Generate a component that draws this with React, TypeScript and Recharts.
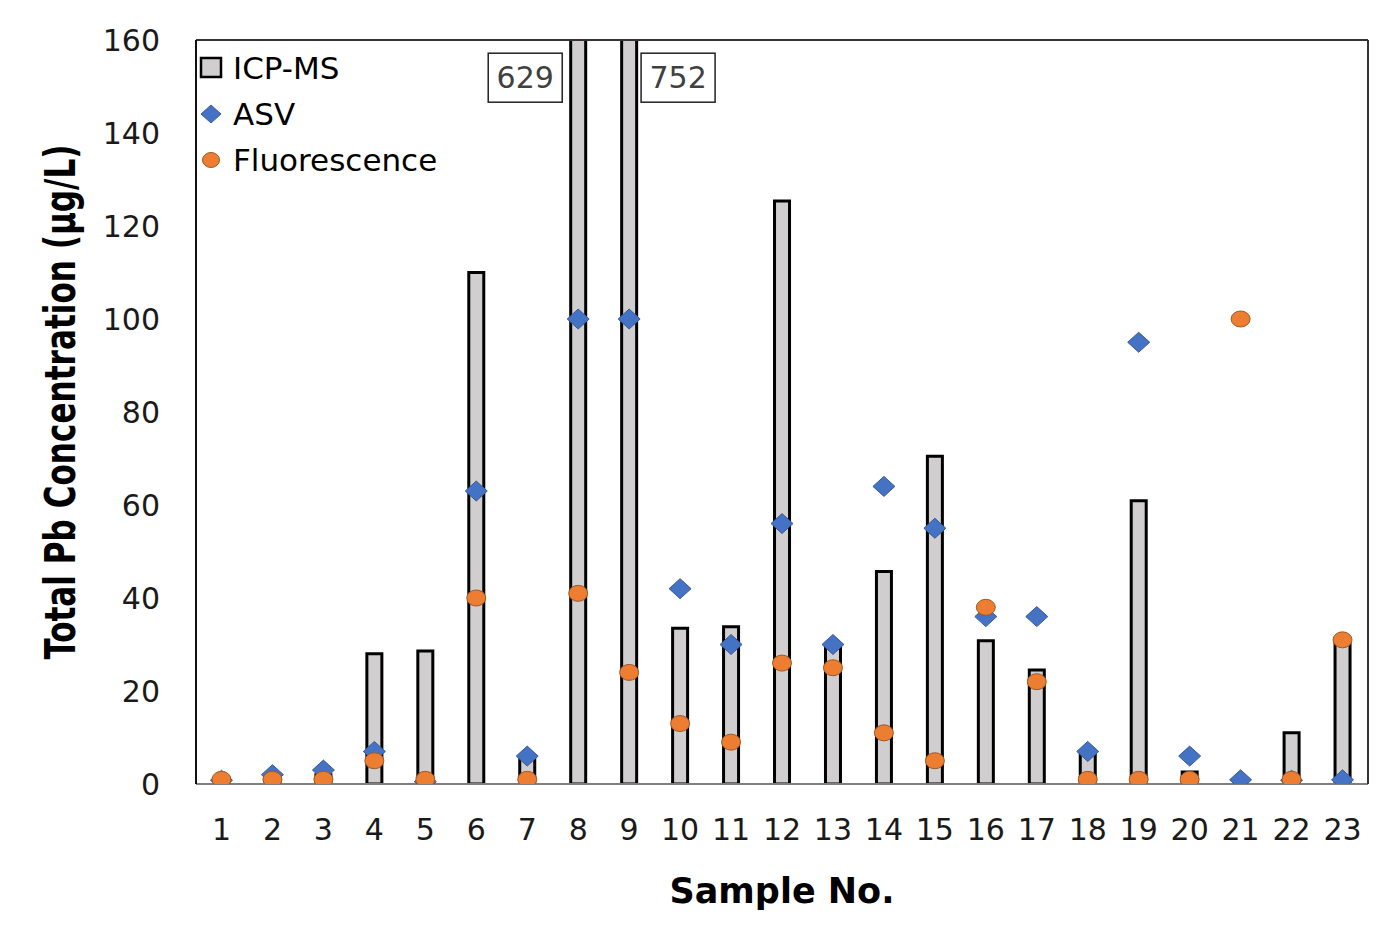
import React from "react";
import {
  ComposedChart,
  Bar,
  Scatter,
  XAxis,
  YAxis,
  Legend,
  ReferenceDot,
} from "recharts";

// Sample numbers 1..23
const samples = [
  "1", "2", "3", "4", "5", "6", "7", "8", "9", "10", "11", "12",
  "13", "14", "15", "16", "17", "18", "19", "20", "21", "22", "23",
];

// Total Pb (µg/L) by method
const icpMs = [
  0.3, 1.5, 2, 28, 28.6, 110, 5.6, 629, 752, 33.5, 33.8, 125.4,
  29.5, 45.7, 70.5, 30.8, 24.5, 6.7, 60.9, 2.6, 0, 11, 30.3,
];
const asv = [
  0.8, 2, 3, 7, 0.5, 63, 6, 100, 100, 42, 30, 56,
  30, 64, 55, 36, 36, 7, 95, 6, 0.9, 0.8, 0.9,
];
const fluorescence = [
  1, 1, 1, 5, 1, 40, 1, 41, 24, 13, 9, 26,
  25, 11, 5, 38, 22, 1, 1, 1, 100, 1, 31,
];

const yTicks = [0, 20, 40, 60, 80, 100, 120, 140, 160];

// off-scale values written in boxes above the clipped bars
const offScaleNotes = [
  { sample: "7", y: 152, text: "629" },
  { sample: "10", y: 152, text: "752" },
];

const FONT = "'DejaVu Sans', 'Open Sans', sans-serif";
const BAR_FILL = "#d0cece";
const BLUE = "#4472c4";
const ORANGE = "#ed7d31";

const chartData = samples.map((s, i) => ({
  sample: s,
  icp: icpMs[i],
  asv: asv[i],
  fluor: fluorescence[i],
}));

const Diamond = (props: any) => {
  const { cx, cy } = props;
  if (cx == null || cy == null) return null;
  return (
    <path
      d={`M${cx},${cy - 10} L${cx + 11},${cy} L${cx},${cy + 10} L${cx - 11},${cy} Z`}
      fill={BLUE}
      stroke="#3a5a94"
      strokeWidth={1}
    />
  );
};

const Dot = (props: any) => {
  const { cx, cy } = props;
  if (cx == null || cy == null) return null;
  return (
    <ellipse cx={cx} cy={cy} rx={9.5} ry={8} fill={ORANGE} stroke="#9c5a2a" strokeWidth={1} />
  );
};

const NoteBox = (text: string) => (props: any) => {
  const { cx, cy } = props;
  if (cx == null || cy == null) return null;
  return (
    <g>
      <rect x={cx - 39} y={cy - 24} width={74} height={49} fill="#fff" stroke="#222" strokeWidth={1.5} />
      <text
        x={cx - 2}
        y={cy + 11}
        textAnchor="middle"
        fontFamily={FONT}
        fontSize={30}
        fill="#404040"
      >
        {text}
      </text>
    </g>
  );
};

const YTitle = (props: any) => {
  const { viewBox } = props;
  const cy = viewBox.y + viewBox.height / 2 - 10;
  const cx = 60;
  return (
    <text
      x={cx}
      y={cy}
      transform={`rotate(-90 ${cx} ${cy})`}
      textAnchor="middle"
      dominantBaseline="central"
      fontFamily="'Liberation Sans Narrow', 'DejaVu Sans Condensed', 'DejaVu Sans', sans-serif"
      fontWeight="bold"
      fontSize={43}
      textLength={515}
      lengthAdjust="spacingAndGlyphs"
      fill="#000"
    >
      Total Pb Concentration (µg/L)
    </text>
  );
};

const legendItems = [
  { name: "ICP-MS", kind: "square" },
  { name: "ASV", kind: "diamond" },
  { name: "Fluorescence", kind: "circle" },
];

const LegendBox = () => (
  <div style={{ fontFamily: FONT, fontSize: 31, color: "#000", lineHeight: "46px" }}>
    {legendItems.map((it) => (
      <div key={it.name} style={{ display: "flex", alignItems: "center", height: 46 }}>
        <svg width={26} height={24} style={{ marginRight: 8 }}>
          {it.kind === "square" && (
            <rect x={2} y={2} width={20} height={19} fill={BAR_FILL} stroke="#000" strokeWidth={2.5} />
          )}
          {it.kind === "diamond" && (
            <path d="M12,3 L22,12 L12,21 L2,12 Z" fill={BLUE} stroke="#3a5a94" strokeWidth={1} />
          )}
          {it.kind === "circle" && (
            <ellipse cx={12} cy={12} rx={8.5} ry={7.5} fill={ORANGE} stroke="#9c5a2a" strokeWidth={1} />
          )}
        </svg>
        <span>{it.name}</span>
      </div>
    ))}
  </div>
);

export default function App() {
  return (
    <div style={{ position: "absolute", left: 0, top: 0, background: "#fff" }}>
      <ComposedChart
        width={1377}
        height={927}
        data={chartData}
        margin={{ top: 38, right: 0, left: 0, bottom: 0 }}
      >
        <XAxis
          dataKey="sample"
          type="category"
          interval={0}
          height={143}
          tickLine={false}
          tickSize={0}
          tickMargin={35}
          axisLine={{ stroke: "#7f7f7f", strokeWidth: 2 }}
          tick={{ fontFamily: FONT, fontSize: 30, fill: "#1a1a1a" }}
          label={{
            value: "Sample No.",
            position: "insideBottom",
            offset: 24,
            style: { fontFamily: FONT, fontWeight: "bold", fontSize: 35, fill: "#000" },
          }}
        />
        <XAxis
          xAxisId="top"
          dataKey="sample"
          orientation="top"
          height={2}
          tick={false}
          tickLine={false}
          axisLine={{ stroke: "#333", strokeWidth: 2 }}
        />
        <YAxis
          domain={[0, 160]}
          ticks={yTicks}
          allowDataOverflow
          width={196}
          tickLine={false}
          tickSize={0}
          tickMargin={36}
          axisLine={{ stroke: "#111", strokeWidth: 2 }}
          tick={{ fontFamily: FONT, fontSize: 30, fill: "#1a1a1a" }}
          label={<YTitle />}
        />
        <YAxis
          yAxisId="right"
          orientation="right"
          domain={[0, 160]}
          width={9}
          tick={false}
          tickLine={false}
          axisLine={{ stroke: "#333", strokeWidth: 2 }}
        />
        <Legend
          layout="vertical"
          align="center"
          verticalAlign="middle"
          content={<LegendBox />}
          wrapperStyle={{ left: 199, top: 45, width: "auto", height: "auto" }}
        />
        <Bar
          dataKey="icp"
          name="ICP-MS"
          barSize={15}
          fill={BAR_FILL}
          stroke="#000"
          strokeWidth={3}
          isAnimationActive={false}
        />
        <Scatter dataKey="asv" name="ASV" shape={Diamond} isAnimationActive={false} />
        <Scatter dataKey="fluor" name="Fluorescence" shape={Dot} isAnimationActive={false} />
        {offScaleNotes.map((n) => (
          <ReferenceDot
            key={n.text}
            x={n.sample}
            y={n.y}
            shape={NoteBox(n.text)}
          />
        ))}
      </ComposedChart>
    </div>
  );
}
